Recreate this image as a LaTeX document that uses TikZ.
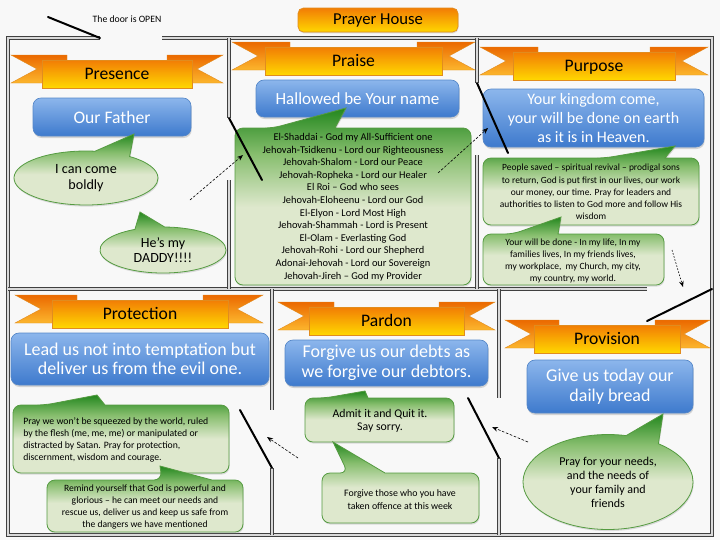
\documentclass[tikz,border=0pt]{standalone}
\usepackage{fontspec}
\setmainfont{Carlito}
\usetikzlibrary{shapes.callouts,shapes.geometric,shadows,arrows.meta}
\definecolor{bgcol}{RGB}{248,248,248}
\definecolor{gdark}{RGB}{35,135,30}
\definecolor{gmid}{RGB}{135,190,110}
\definecolor{gpale}{RGB}{222,232,205}
\definecolor{gline}{RGB}{85,155,65}
\definecolor{blight}{RGB}{140,182,236}
\definecolor{bdark}{RGB}{62,122,205}
\definecolor{bline}{RGB}{85,135,200}
\definecolor{otop}{RGB}{242,125,5}
\definecolor{obot}{RGB}{255,215,0}
\definecolor{ttop}{RGB}{235,105,0}
\definecolor{tbot}{RGB}{252,182,45}
\definecolor{oline}{RGB}{225,140,30}
\pgfdeclareverticalshading{greensh}{100bp}{color(0bp)=(gpale); color(25bp)=(gpale); color(47bp)=(gpale); color(62bp)=(gmid); color(75bp)=(gdark); color(100bp)=(gdark)}
\newcommand\mkribbon[7]{%
  \shadedraw[tailsh] (#2,#4) -- (#5+25,#4) -- (#5+25,#4+28) -- (#2,#4+28) -- (#2+26,#4+14) -- cycle;
  \shadedraw[tailsh] (#3,#4) -- (#6-25,#4) -- (#6-25,#4+28) -- (#3,#4+28) -- (#3-26,#4+14) -- cycle;
  \shadedraw[bandsh] (#5,#4+5) rectangle (#6,#4+33);
  \node[bannertext] (#1) at ({(#5+#6)/2},#4+20) {#7};
}
\newcommand\gbox[8]{%
  \path[greenshape] (#1,{(#2+#4)/2}) [rounded corners=6pt] -- (#1,#2) -- (#5,#2) [sharp corners] -- (#7,#8) -- (#6,#2) [rounded corners=6pt] -- (#3,#2) -- (#3,#4) -- (#1,#4) -- cycle;
}
\begin{document}
\begin{tikzpicture}[x=0.75pt,y=-0.75pt,
  wall/.style={draw=black!75, line width=0.7pt, double=gray!30, double distance=1.1pt, line join=miter},
  door/.style={line width=1.5pt, black, line cap=round},
  darrow/.style={-{Stealth[length=4.5pt,width=3.5pt]}, dash pattern=on 2pt off 1.2pt, line width=0.45pt},
  tailsh/.style={top color=ttop, bottom color=tbot, draw=oline, line width=0.3pt},
  bandsh/.style={top color=otop, bottom color=obot, draw=oline, line width=0.4pt, drop shadow={opacity=0.25,shadow xshift=0.4pt,shadow yshift=-1pt}},
  bannertext/.style={font=\fontsize{13.2}{15}\selectfont, text=black, inner sep=0pt, text height=9.5pt, text depth=2.5pt},
  bluebox/.style={rounded corners=6pt, top color=blight, bottom color=bdark, draw=bline, line width=0.5pt, text=white, align=center, inner sep=0pt, drop shadow={opacity=0.3,shadow xshift=0.5pt,shadow yshift=-1.5pt}},
  greenshape/.style={shade, shading=greensh, draw=gline, line width=0.6pt, drop shadow={opacity=0.25,shadow xshift=0.5pt,shadow yshift=-1.2pt}},
  gtext/.style={align=center, text=black, inner sep=0pt},
  gell/.style={ellipse callout, greenshape, inner sep=0pt, align=center, text=black},
]
\useasboundingbox (0,0) rectangle (720,540);
\fill[bgcol] (0,0) rectangle (720,540);

% walls
\draw[wall] (100,38) -- (8,38) -- (8,535) -- (712,535) -- (712,38) -- (162,38);
\draw[wall] (8,289) -- (647,289);
\draw[wall] (229,38) -- (229,118);
\draw[wall] (229,180) -- (229,289);
\draw[wall] (477,38) -- (477,83);
\draw[wall] (477,155) -- (477,289);
\draw[wall] (272,289) -- (272,410);
\draw[wall] (272,468) -- (272,535);
\draw[wall] (499,289) -- (499,398);
\draw[wall] (499,458) -- (499,535);

% title
\node[draw=oline, line width=0.5pt, rounded corners=4pt, top color=otop, bottom color=obot, minimum width=120pt, minimum height=18pt, inner sep=0pt, font=\fontsize{12.5}{14}\selectfont, drop shadow={opacity=0.25,shadow xshift=0.4pt,shadow yshift=-1pt}] (title) at (378,20) {Prayer House};
\node[font=\fontsize{7.3}{9}\selectfont, inner sep=0pt] (doortext) at (127,19) {The door is OPEN};

% banners
\mkribbon{presence}{11}{223}{55}{42}{192}{Presence}
\mkribbon{praise}{232}{475}{42}{265}{442}{Praise}
\mkribbon{purpose}{480}{708}{47}{513}{675}{Purpose}
\mkribbon{protection}{15}{263}{295}{52}{228}{Protection}
\mkribbon{pardon}{278}{495}{302}{309}{464}{Pardon}
\mkribbon{provision}{505}{710}{320}{534}{680}{Provision}

% blue boxes
\node[bluebox, minimum width=118.5pt, minimum height=28.5pt, font=\fontsize{13.2}{14.5}\selectfont] (father) at (112,117) {Our Father};
\node[bluebox, minimum width=152.25pt, minimum height=27.75pt, font=\fontsize{12.75}{14}\selectfont] (hallowed) at (357.5,98.5) {Hallowed be Your name};
\node[bluebox, minimum width=165.75pt, minimum height=43.5pt, font=\fontsize{12}{13.9}\selectfont] (kingdom) at (593.5,118) {Your kingdom come,\\your will be done on earth\\as it is in Heaven.};
\node[bluebox, minimum width=193.5pt, minimum height=39pt, font=\fontsize{13.5}{14.6}\selectfont] (temptation) at (140,359) {Lead us not into temptation but\\deliver us from the evil one.};
\node[bluebox, minimum width=152.25pt, minimum height=34.5pt, font=\fontsize{13.5}{15}\selectfont] (debts) at (386.5,363) {Forgive us our debts as\\we forgive our debtors.};
\node[bluebox, minimum width=124.5pt, minimum height=39.75pt, font=\fontsize{13.5}{15}\selectfont] (bread) at (610,386.5) {Give us today our\\daily bread};

% green ellipse callouts
\node[gell, minimum width=108pt, minimum height=40.5pt, callout absolute pointer={(134,134)}, callout pointer arc=30, font=\fontsize{10.6}{12}\selectfont] (boldly) at (86,178) {I can come\\boldly};
\node[gell, minimum width=94.5pt, minimum height=34.5pt, callout absolute pointer={(140,212)}, callout pointer arc=28, font=\fontsize{10.5}{11.5}\selectfont] (daddy) at (163,250) {He’s my\\DADDY!!!!};
\node[gell, minimum width=127.5pt, minimum height=71.25pt, callout absolute pointer={(663,414)}, callout pointer arc=24, font=\fontsize{9}{10.5}\selectfont] (needs) at (608,482) {Pray for your needs,\\and the needs of\\your family and\\friends};

% green rectangle callouts
\gbox{235}{128}{471}{285}{273}{335}{346}{108}
\node[gtext, font=\fontsize{7.8}{9.45}\selectfont] (names) at (353,207) {El-Shaddai - God my All-Sufficient one\\Jehovah-Tsidkenu - Lord our Righteousness\\Jehovah-Shalom - Lord our Peace\\Jehovah-Ropheka - Lord our Healer\\El Roi – God who sees\\Jehovah-Eloheenu - Lord our God\\El-Elyon - Lord Most High\\Jehovah-Shammah - Lord is Present\\El-Olam - Everlasting God\\Jehovah-Rohi - Lord our Shepherd\\Adonai-Jehovah - Lord our Sovereign\\Jehovah-Jireh – God my Provider};

\gbox{483}{158}{699}{225}{605}{665}{675}{146}
\node[gtext, font=\fontsize{7.1}{9.15}\selectfont] (saved) at (591,192) {People saved – spiritual revival – prodigal sons\\to return, God is put first in our lives, our work\\our money, our time. Pray for leaders and\\authorities to listen to God more and follow His\\wisdom};

\gbox{483}{234}{664}{285}{513}{558}{561}{217}
\node[gtext, font=\fontsize{7.15}{9}\selectfont] (willdone) at (573,261) {Your will be done - In my life, In my\\families lives, In my friends lives,\\my workplace,\ \ my Church, my city,\\my country, my world.};

\gbox{13}{405}{229}{473}{45}{105}{97}{395}
\node[gtext, align=left, anchor=west, font=\fontsize{7.3}{9}\selectfont] (squeezed) at (23,440) {Pray we won’t be squeezed by the world, ruled\\by the flesh (me, me, me) or manipulated or\\distracted by Satan. Pray for protection,\\discernment, wisdom and courage.};

\gbox{47}{480}{243}{532}{162}{212}{160}{466}
\node[gtext, font=\fontsize{7.2}{8.8}\selectfont] (remind) at (145,507) {Remind yourself that God is powerful and\\glorious – he can meet our needs and\\rescue us, deliver us and keep us safe from\\the dangers we have mentioned};

\gbox{305}{398}{454}{442}{325}{368}{365}{391}
\node[gtext, font=\fontsize{8.85}{9.75}\selectfont] (admit) at (380,421) {Admit it and Quit it.\\Say sorry.};

\gbox{322}{473}{479}{523}{348}{385}{333}{442}
\node[gtext, font=\fontsize{7.4}{9.75}\selectfont] (offence) at (400,500) {Forgive those who you have\\taken offence at this week};

% doors
\coordinate (e1) at (48,17);  \coordinate (e2) at (100,38);
\coordinate (p1) at (229,118); \coordinate (p2) at (262,180);
\coordinate (q1) at (477,83);  \coordinate (q2) at (508,153);
\coordinate (r1) at (712,289); \coordinate (r2) at (647,321);
\coordinate (s1) at (240,410); \coordinate (s2) at (272,468);
\coordinate (t1) at (468,398); \coordinate (t2) at (499,458);
\draw[door] (e1) -- (e2);
\draw[door] (p1) -- (p2);
\draw[door] (q1) -- (q2);
\draw[door] (r1) -- (r2);
\draw[door] (s1) -- (s2);
\draw[door] (t1) -- (t2);

% dashed arrows
\coordinate (a1) at (190,200); \coordinate (a2) at (243,155);
\coordinate (b1) at (438,173); \coordinate (b2) at (488,128);
\coordinate (c1) at (672,250); \coordinate (c2) at (683,287);
\coordinate (f1) at (298,458); \coordinate (f2) at (267,437);
\coordinate (h1) at (528,442); \coordinate (h2) at (492,427);
\draw[darrow] (a1) -- (a2);
\draw[darrow] (b1) -- (b2);
\draw[darrow, dash pattern=on 1.2pt off 1.2pt] (c1) -- (c2);
\draw[darrow] (f1) -- (f2);
\draw[darrow] (h1) -- (h2);
\end{tikzpicture}
\end{document}
